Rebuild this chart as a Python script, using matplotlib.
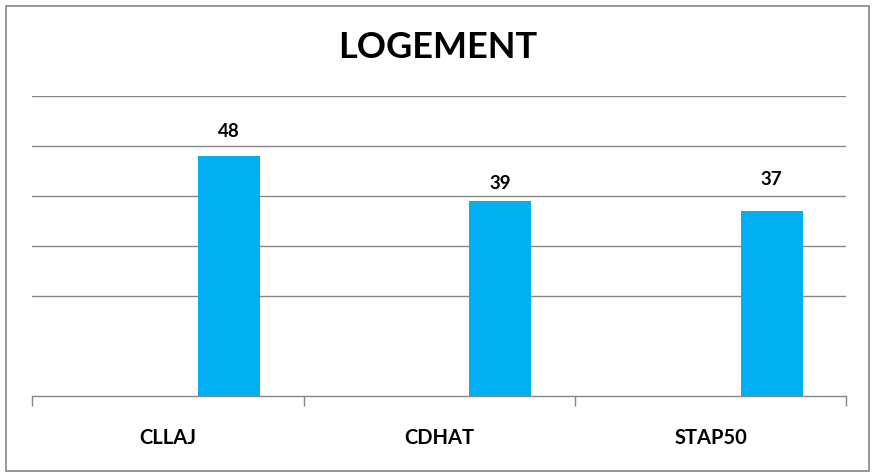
import numpy as np
import matplotlib
matplotlib.use("Agg")
import matplotlib.pyplot as plt
from matplotlib.patches import Rectangle

categories = ["CLLAJ", "CDHAT", "STAP50"]
values = [48, 39, 37]
title = "LOGEMENT"
label_offsets_pt = [17.3, 12.5, 22.5]  # vertical offset of value labels above bar tops

BAR_COLOR = "#00B0F0"
GRAY = "#868686"
FONT = "Lato"

fig = plt.figure(figsize=(8.74, 4.72), dpi=100)
ax = fig.add_axes([32.3 / 874, 1 - 396.3 / 472, (846.3 - 32.3) / 874, (396.3 - 95.5) / 472])

x = np.arange(len(categories))
bar_x = x + 0.225
ax.bar(bar_x, values, width=0.2285, color=BAR_COLOR, zorder=3)

for bx, v, off in zip(bar_x, values, label_offsets_pt):
    ax.annotate(str(v), (bx, v), xytext=(0, off), textcoords="offset points",
                ha="center", va="center", fontsize=13.5, fontweight="bold",
                family=FONT, color="black")

ax.set_xlim(-0.5, len(categories) - 0.5)
ax.set_ylim(0, 60)

ax.set_yticks(np.arange(20, 61, 10))
ax.tick_params(axis="y", length=0, labelleft=False)
ax.grid(axis="y", color=GRAY, linewidth=1.0, zorder=0)
ax.set_axisbelow(True)

ax.set_xticks(x)
ax.set_xticklabels(categories, fontsize=14.5, fontweight="bold", family=FONT)
ax.tick_params(axis="x", length=0, pad=23)
ax.set_xticks(np.arange(-0.5, len(categories), 1.0), minor=True)
ax.tick_params(axis="x", which="minor", length=7, width=1.0, color=GRAY, direction="out")

for s in ["left", "right", "top"]:
    ax.spines[s].set_visible(False)
ax.spines["bottom"].set_color(GRAY)
ax.spines["bottom"].set_linewidth(1.0)

fig.text(438 / 874, 1 - 48 / 472, title, ha="center", va="center",
         fontsize=26, fontweight="bold", family=FONT, color="black")

fig.patches.append(Rectangle((6 / 874, 1 - 471 / 472), (869 - 6) / 874, (471 - 6) / 472,
                             transform=fig.transFigure, fill=False, edgecolor=GRAY,
                             linewidth=1.2))

fig.savefig("out.png", dpi=100, facecolor="white")
